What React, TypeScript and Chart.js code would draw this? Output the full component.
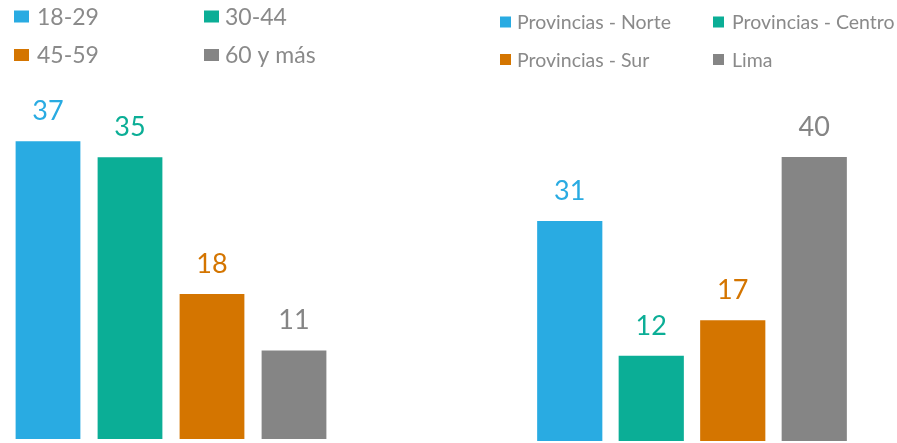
import React, { useEffect, useRef } from "react";
import { Chart, registerables } from "chart.js";

Chart.register(...registerables);

// ---- Data ----
const ageLabels = ["18-29", "30-44", "45-59", "60 y más"];
const ageValues = [37, 35, 18, 11];

const regionLabels = ["Provincias - Norte", "Provincias - Centro", "Provincias - Sur", "Lima"];
const regionValues = [31, 12, 17, 40];

const palette = ["#29ABE2", "#0BAE96", "#D47500", "#858585"];

const FONT = "Lato, 'Open Sans', sans-serif";

// Custom 2x2 legend
const gridLegend = {
  id: "gridLegend",
  afterDraw(chart: any, _args: any, opts: any) {
    const ctx = chart.ctx;
    const labels: string[] = chart.data.labels;
    const colors: string[] = chart.data.datasets[0].backgroundColor;
    ctx.save();
    ctx.font = `${opts.fontSize}px ${FONT}`;
    ctx.textBaseline = "middle";
    ctx.textAlign = "left";
    labels.forEach((lab, i) => {
      const col = i % 2;
      const row = Math.floor(i / 2);
      const bx = opts.boxX[col];
      const tx = opts.textX[col];
      const cy = opts.rowY[row];
      ctx.fillStyle = colors[i];
      ctx.fillRect(bx, cy - opts.boxH / 2, opts.boxW, opts.boxH);
      ctx.fillStyle = "#8A8A8A";
      ctx.fillText(lab, tx, cy + 1);
    });
    ctx.restore();
  },
};

// Value labels above bars
const valueLabels = {
  id: "valueLabels",
  afterDatasetsDraw(chart: any, _args: any, opts: any) {
    const ctx = chart.ctx;
    const meta = chart.getDatasetMeta(0);
    const ds = chart.data.datasets[0];
    ctx.save();
    ctx.font = `${opts.fontSize}px ${FONT}`;
    ctx.textAlign = "center";
    ctx.textBaseline = "alphabetic";
    meta.data.forEach((bar: any, i: number) => {
      ctx.fillStyle = ds.backgroundColor[i];
      ctx.fillText(String(ds.data[i]), bar.x, bar.y - opts.gap);
    });
    ctx.restore();
  },
};

type PanelProps = {
  labels: string[];
  values: number[];
  left: number;
  width: number;
  yMax: number;
  padding: { left: number; right: number; top: number; bottom: number };
  barPct: number;
  legend: any;
};

function Panel({ labels, values, left, width, yMax, padding, barPct, legend }: PanelProps) {
  const ref = useRef<HTMLCanvasElement | null>(null);
  useEffect(() => {
    if (!ref.current) return;
    const chart = new Chart(ref.current, {
      type: "bar",
      data: {
        labels,
        datasets: [
          {
            data: values,
            backgroundColor: palette,
            borderWidth: 0,
            barPercentage: barPct,
            categoryPercentage: 1,
          },
        ],
      },
      options: {
        animation: false,
        responsive: false,
        devicePixelRatio: 1,
        layout: { padding },
        plugins: {
          legend: { display: false },
          tooltip: { enabled: false },
          gridLegend: legend,
          valueLabels: { fontSize: 27, gap: 21 },
        } as any,
        scales: {
          x: { display: false },
          y: { display: false, min: 0, max: yMax },
        },
      },
      plugins: [gridLegend, valueLabels],
    });
    return () => chart.destroy();
  }, []);
  return (
    <canvas
      ref={ref}
      width={width}
      height={443}
      style={{ position: "absolute", left, top: 0, width, height: 443 }}
    />
  );
}

export default function App() {
  return (
    <div
      style={{
        position: "fixed",
        left: 0,
        top: 0,
        width: 897,
        height: 443,
        background: "#ffffff",
        overflow: "hidden",
      }}
    >
      <Panel
        labels={ageLabels}
        values={ageValues}
        left={0}
        width={450}
        yMax={40}
        padding={{ left: 7, right: 115, top: 117, bottom: 4 }}
        barPct={0.79}
        legend={{
          fontSize: 23,
          boxX: [14, 204],
          textX: [37, 225],
          rowY: [16.5, 55],
          boxW: 15,
          boxH: 12,
        }}
      />
      <Panel
        labels={regionLabels}
        values={regionValues}
        left={450}
        width={447}
        yMax={45}
        padding={{ left: 79, right: 42, top: 121.5, bottom: 2 }}
        barPct={0.8}
        legend={{
          fontSize: 19.5,
          boxX: [50, 263],
          textX: [67, 282],
          rowY: [22, 59.5],
          boxW: 11,
          boxH: 11,
        }}
      />
    </div>
  );
}
